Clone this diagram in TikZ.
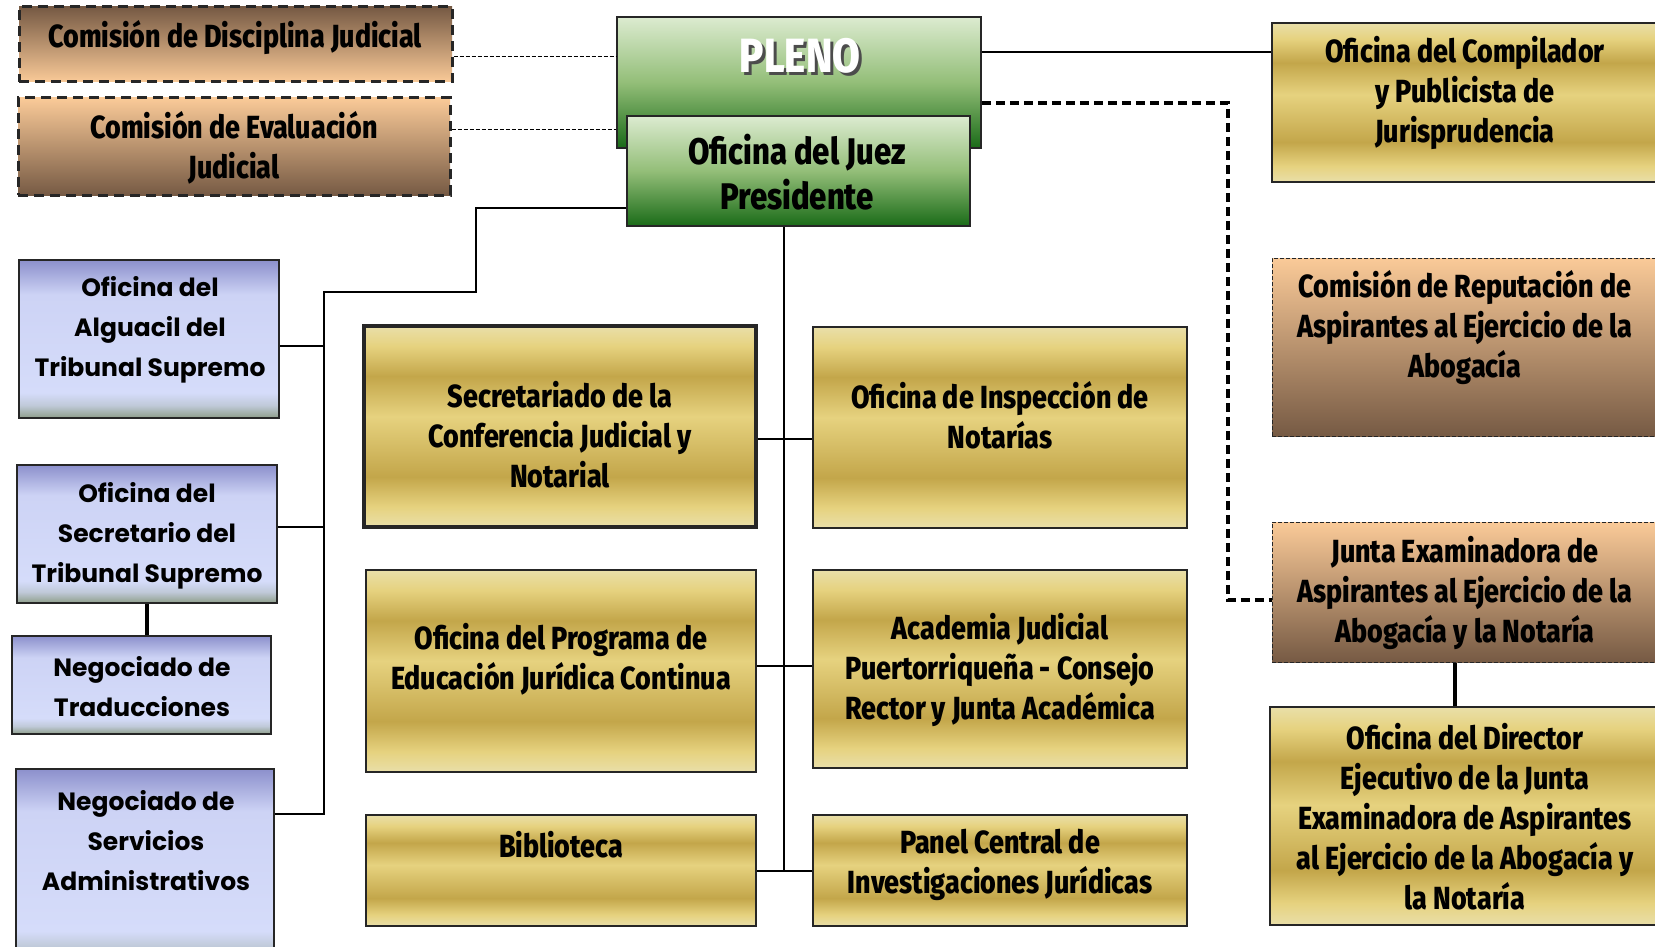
\documentclass[tikz,border=0pt]{standalone}
\usepackage{fontspec}
\usepackage{xcolor}
\usetikzlibrary{fit}
\newfontfamily\goldfont[FakeStretch=0.84, BoldFont={Fira Sans ExtraBold}]{Fira Sans}
\newfontfamily\bluefont[FakeStretch=1.0]{Poppins}

\definecolor{goldA}{HTML}{E9DFA9}
\definecolor{goldB}{HTML}{E6D27F}
\definecolor{goldC}{HTML}{C3A64A}
\definecolor{blueA}{HTML}{8C90CC}
\definecolor{blueB}{HTML}{CDD3F5}
\definecolor{blueC}{HTML}{D5DCFA}
\definecolor{blueD}{HTML}{8E9E8A}
\definecolor{peach}{HTML}{FACA98}
\definecolor{brownD}{HTML}{765A44}
\definecolor{greenA}{HTML}{DCEBD0}
\definecolor{greenB}{HTML}{93BE78}
\definecolor{greenC}{HTML}{1A6B18}

\pgfdeclareverticalshading{goldshade}{100bp}{color(0bp)=(goldA); color(25bp)=(goldA); color(30bp)=(goldB); color(37.5bp)=(goldC); color(52.5bp)=(goldB); color(62.5bp)=(goldC); color(70bp)=(goldB); color(75bp)=(goldA); color(100bp)=(goldA)}
\pgfdeclareverticalshading{blueshade}{100bp}{color(0bp)=(blueD); color(25bp)=(blueD); color(29bp)=(blueC!70!blueD); color(33bp)=(blueC); color(64bp)=(blueB); color(75bp)=(blueA); color(100bp)=(blueA)}

\newcommand{\shadowed}[1]{\rlap{\kern1.5pt\raisebox{-1.5pt}{\textcolor{black!70}{#1}}}\textcolor{white}{#1}}

\tikzset{
  box/.style={inner sep=0pt, draw=black!85},
  goldbox/.style={box, line width=1pt, shading=goldshade},
  bluebox/.style={box, line width=1.3pt, shading=blueshade},
  greenbox/.style={box, line width=0.9pt, top color=greenA, bottom color=greenC, middle color=greenB},
  darkdown/.style={top color=brownD, bottom color=peach},
  darkup/.style={top color=peach, bottom color=brownD},
  bigdash/.style={box, line width=1.5pt, dash pattern=on 5pt off 3pt},
  smalldash/.style={box, line width=0.5pt, dash pattern=on 2pt off 1pt},
  goldtext/.style={align=center, font=\goldfont\bfseries\fontsize{16}{20}\selectfont},
  bluetext/.style={align=center, font=\bluefont\bfseries\fontsize{12.5}{20}\selectfont},
  link/.style={line width=0.8pt},
  heavylink/.style={line width=1.6pt},
  dashlink/.style={line width=1.6pt, dash pattern=on 4.5pt off 2.5pt},
  thindash/.style={line width=0.5pt, dash pattern=on 2pt off 1pt}
}

\begin{document}
\begin{tikzpicture}[x=0.5pt, y=-0.5pt]
\useasboundingbox (0,0) rectangle (1655,947);

\node[bigdash, darkdown, fit={(19,7) (452,82)}] (disc) {};
\node[bigdash, darkup, fit={(18,98) (450,195)}] (eval) {};
\node[greenbox, fit={(617,17) (981,148)}] (pleno) {};
\node[greenbox, fit={(627,116) (970,226)}] (juez) {};

\node[goldbox, fit={(1272,23) (1660,182)}] (comp) {};
\node[smalldash, darkup, fit={(1272,258) (1660,436)}] (rep) {};
\node[smalldash, darkup, fit={(1272,522) (1660,662)}] (junta) {};
\node[goldbox, fit={(1270,707) (1660,925)}] (dir) {};

\node[bluebox, fit={(19,260) (279,418)}] (alg) {};
\node[bluebox, fit={(17,465) (277,603)}] (secy) {};
\node[bluebox, fit={(12,636) (271,734)}] (trad) {};
\node[bluebox, fit={(16,769) (274,962)}] (serv) {};

\node[goldbox, line width=1.6pt, fit={(364,326) (756,527)}] (scj) {};
\node[goldbox, fit={(813,327) (1187,528)}] (insp) {};
\node[goldbox, fit={(366,570) (756,772)}] (prog) {};
\node[goldbox, fit={(813,570) (1187,768)}] (acad) {};
\node[goldbox, fit={(366,815) (756,926)}] (bib) {};
\node[goldbox, fit={(813,815) (1187,926)}] (panel) {};

\coordinate (dc) at (530,57);
\coordinate (ec) at (530,130);
\coordinate (cp) at (1100,52);
\coordinate (d1) at (1228,103);
\coordinate (d2) at (1228,600);
\coordinate (jd) at (1455,680);
\coordinate (lt) at (476,208);
\coordinate (ltop) at (324,292);
\coordinate (la) at (324,346);
\coordinate (ls) at (324,527);
\coordinate (lbot) at (324,814);
\coordinate (ctop) at (784,226);
\coordinate (c1) at (784,439);
\coordinate (c2) at (784,666);
\coordinate (cbot) at (784,871);

\draw[thindash] (disc.east |- dc) -- (pleno.west |- dc);
\draw[thindash] (eval.east |- ec) -- (pleno.west |- ec);
\draw[link] (pleno.east |- cp) -- (comp.west |- cp);
\draw[dashlink] (pleno.east |- d1) -- (d1) -- (d2) -- (junta.west |- d2);
\draw[heavylink] (junta.south -| jd) -- (dir.north -| jd);

\draw[link] (juez.west |- lt) -- (lt) |- (ltop) -- (lbot) -- (serv.east |- lbot);
\draw[link] (alg.east |- la) -- (la);
\draw[link] (secy.east |- ls) -- (ls);
\draw[heavylink] (secy.south) -- (secy.south |- trad.north);

\draw[link] (juez.south -| ctop) -- (cbot);
\draw[link] (scj.east |- c1) -- (insp.west |- c1);
\draw[link] (prog.east |- c2) -- (acad.west |- c2);
\draw[link] (bib.east |- cbot) -- (panel.west |- cbot);

\node[goldtext] (discT) at (235,38) {Comisión de Disciplina Judicial};
\node[goldtext] (evalT) at (234,148) {Comisión de Evaluación\\Judicial};
\node[goldtext, font=\goldfont\bfseries\fontsize{24}{30}\selectfont] (plenoT) at (800,57) {\shadowed{PLENO}};
\node[goldtext, font=\goldfont\bfseries\fontsize{18.5}{22.5}\selectfont] (juezT) at (797,172) {Oficina del Juez\\Presidente};

\node[goldtext] (compT) at (1465,93) {Oficina del Compilador\\y Publicista de\\Jurisprudencia};
\node[goldtext] (repT) at (1465,328) {Comisión de Reputación de\\Aspirantes al Ejercicio de la\\Abogacía};
\node[goldtext] (juntaT) at (1465,593) {Junta Examinadora de\\Aspirantes al Ejercicio de la\\Abogacía y la Notaría};
\node[goldtext] (dirT) at (1465,817) {Oficina del Director\\Ejecutivo de la Junta\\Examinadora de Aspirantes\\al Ejercicio de la Abogacía y\\la Notaría};

\node[bluetext] (algT) at (150,330) {Oficina del\\Alguacil del\\Tribunal Supremo};
\node[bluetext] (secyT) at (147,536) {Oficina del\\Secretario del\\Tribunal Supremo};
\node[bluetext] (tradT) at (142,687) {Negociado de\\Traducciones};
\node[bluetext] (servT) at (146,841) {Negociado de\\Servicios\\Administrativos};

\node[goldtext] (scjT) at (560,435) {Secretariado de la\\Conferencia Judicial y\\Notarial};
\node[goldtext] (inspT) at (1000,415) {Oficina de Inspección de\\Notarías};
\node[goldtext] (progT) at (561,659) {Oficina del Programa de\\Educación Jurídica Continua};
\node[goldtext] (acadT) at (1000,670) {Academia Judicial\\Puertorriqueña - Consejo\\Rector y Junta Académica};
\node[goldtext] (bibT) at (561,845) {Biblioteca};
\node[goldtext] (panelT) at (1000,865) {Panel Central de\\Investigaciones Jurídicas};
\end{tikzpicture}
\end{document}
